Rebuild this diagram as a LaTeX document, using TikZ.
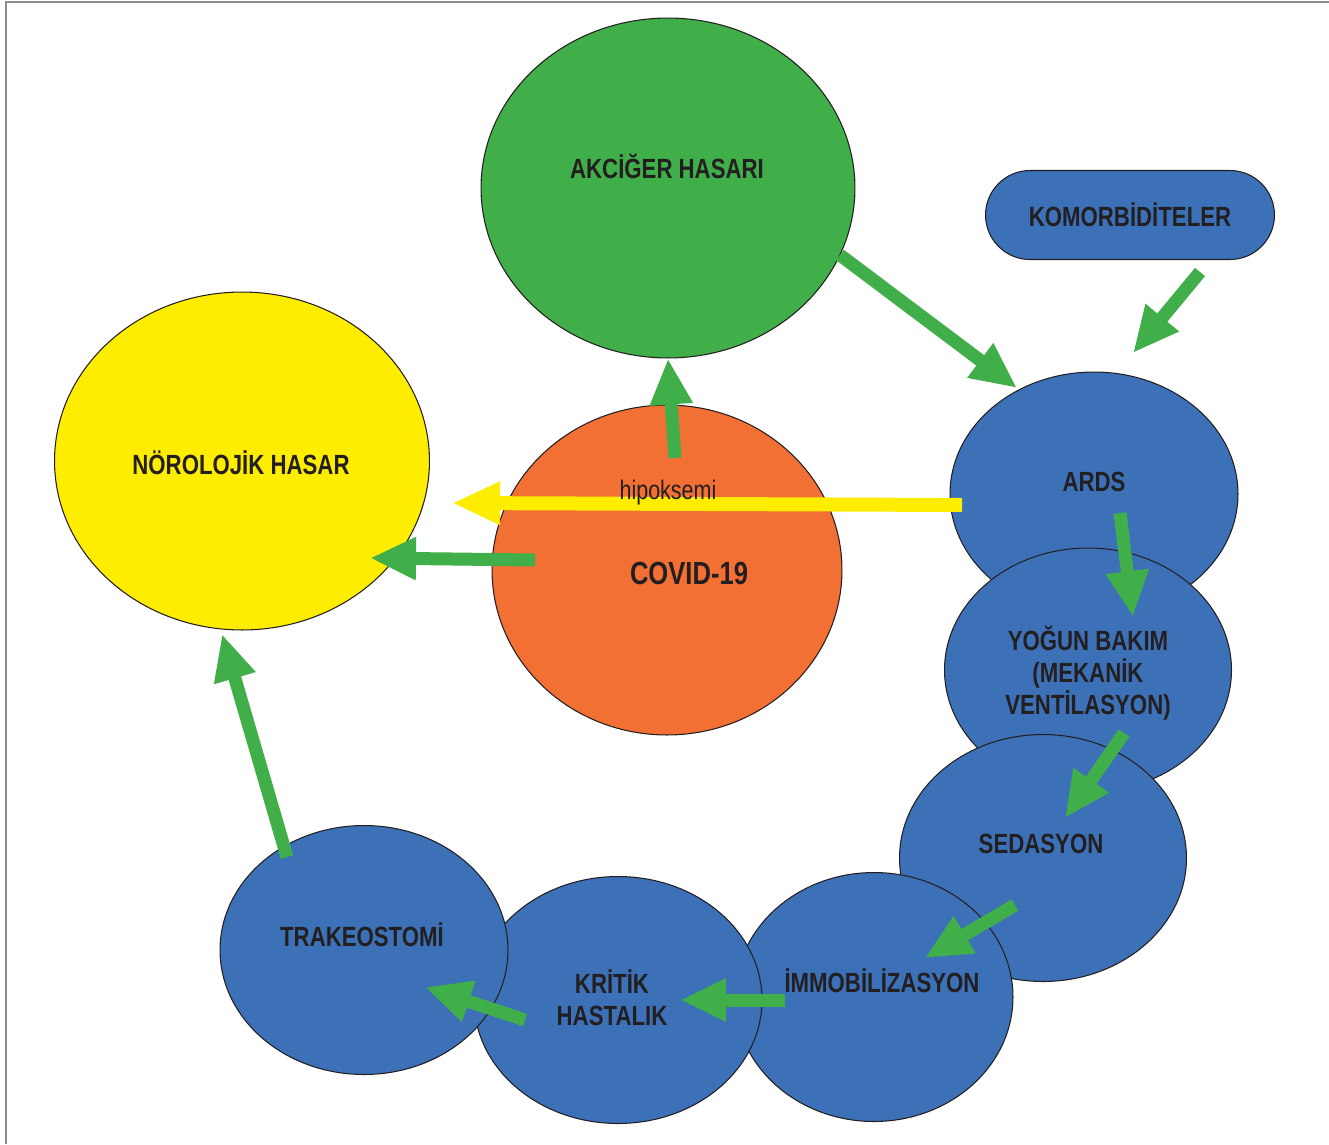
\documentclass[tikz,border=0pt]{standalone}
\usepackage{fontspec}
\setmainfont{Liberation Sans}[FakeStretch=0.8]
\usetikzlibrary{arrows.meta}
\usetikzlibrary{shapes.geometric}
\usetikzlibrary{calc}

\definecolor{lunggreen}{HTML}{40AE49}
\definecolor{neuroyellow}{HTML}{FFED00}
\definecolor{covidorange}{HTML}{F37034}
\definecolor{icublue}{HTML}{3C71B8}
\definecolor{labelblack}{HTML}{231F20}
\definecolor{framegray}{HTML}{8C8C8C}

\begin{document}
\begin{tikzpicture}[x=0.02cm,y=-0.02cm,
    blob/.style={ellipse,draw=labelblack,line width=0.6pt,inner sep=0pt},
    lbl/.style={text=labelblack,font=\fontsize{15.8}{18.2}\selectfont\bfseries,align=center,inner sep=0pt},
    greenarrow/.style={draw=lunggreen,line width=0.26cm,-{Triangle[length=0.92cm,width=0.8cm]}},
    yellowarrow/.style={draw=neuroyellow,line width=0.28cm,-{Triangle[length=0.96cm,width=0.8cm]}}]

  \useasboundingbox (0,0) rectangle (1329,1144);

  % frame
  \draw[framegray,line width=0.8pt] (6,1144) -- (6,2) -- (1329,2);

  % ellipses
  \node[blob,fill=lunggreen,minimum width=7.48cm,minimum height=6.8cm] (akciger) at (668,188) {};
  \node[blob,fill=neuroyellow,minimum width=7.5cm,minimum height=6.76cm] (norolojik) at (242,461) {};
  \node[blob,fill=covidorange,minimum width=7cm,minimum height=6.6cm] (covid) at (667,570) {};
  \node[draw=labelblack,line width=0.6pt,fill=icublue,rounded corners=0.89cm,
        minimum width=5.78cm,minimum height=1.78cm,inner sep=0pt] (komorb) at (1130,215) {};
  \node[blob,fill=icublue,minimum width=5.76cm,minimum height=4.88cm] (ards) at (1094,494) {};
  \node[blob,fill=icublue,minimum width=5.74cm,minimum height=4.88cm] (yogun) at (1088,670) {};
  \node[blob,fill=icublue,minimum width=5.74cm,minimum height=4.94cm] (sedasyon) at (1043,858) {};
  \node[blob,fill=icublue,minimum width=5.56cm,minimum height=4.98cm] (immo) at (874,997) {};
  \node[blob,fill=icublue,minimum width=5.76cm,minimum height=4.94cm] (kritik) at (618,1000) {};
  \node[blob,fill=icublue,minimum width=5.76cm,minimum height=4.98cm] (trakeo) at (364,950) {};

  % arrows
  \draw[greenarrow] ([shift={(8,-112)}]covid.center) -- (akciger.south);
  \draw[greenarrow] ([shift={(172,67)}]akciger.center) -- ([shift={(-77,-106)}]ards.center);
  \draw[greenarrow] ([shift={(70,57)}]komorb.center) -- ([shift={(39,-141)}]ards.center);
  \draw[greenarrow] ([shift={(26,19)}]ards.center) -- ([shift={(45,-53)}]yogun.center);
  \draw[greenarrow] ([shift={(36,63)}]yogun.center) -- ([shift={(22,-40)}]sedasyon.center);
  \draw[greenarrow] ([shift={(-28,47)}]sedasyon.center) -- ([shift={(51,-39)}]immo.center);
  \draw[greenarrow] ([shift={(-89,3)}]immo.center) -- ([shift={(62,0)}]kritik.center);
  \draw[greenarrow] ([shift={(-93,20)}]kritik.center) -- ([shift={(61,37)}]trakeo.center);
  \draw[greenarrow] ([shift={(-77,-93)}]trakeo.center) -- ([shift={(-20,173)}]norolojik.center);
  \draw[greenarrow] ([shift={(-132,-10)}]covid.center) -- ([shift={(128,97)}]norolojik.center);
  \draw[yellowarrow] ([shift={(-132,11)}]ards.center) -- ([shift={(210,42)}]norolojik.center);

  % labels
  \node[lbl,anchor=base] (akcigerText) at (667,178) {AKCİĞER HASARI};
  \node[lbl,anchor=base] (komorbText) at (1130,226) {KOMORBİDİTELER};
  \node[lbl,anchor=base] (norolojikText) at (241,474) {NÖROLOJİK HASAR};
  \node[text=labelblack,font=\fontsize{15.3}{18}\selectfont,inner sep=0pt,anchor=base] (hipoText) at (668,499) {hipoksemi};
  \node[lbl,font=\fontsize{18.2}{21}\selectfont\bfseries,anchor=base] (covidText) at (689,584) {COVID-19};
  \node[lbl,anchor=base] (ardsText) at (1094,491) {ARDS};
  \node[lbl] (yogunText) at (1088,673) {YOĞUN BAKIM\\(MEKANİK\\VENTİLASYON)};
  \node[lbl,anchor=base] (sedasyonText) at (1041,853) {SEDASYON};
  \node[lbl,anchor=base] (immoText) at (882,992) {İMMOBİLİZASYON};
  \node[lbl] (kritikText) at (612,998) {KRİTİK\\HASTALIK};
  \node[lbl,anchor=base] (trakeoText) at (362,946) {TRAKEOSTOMİ};
\end{tikzpicture}
\end{document}
